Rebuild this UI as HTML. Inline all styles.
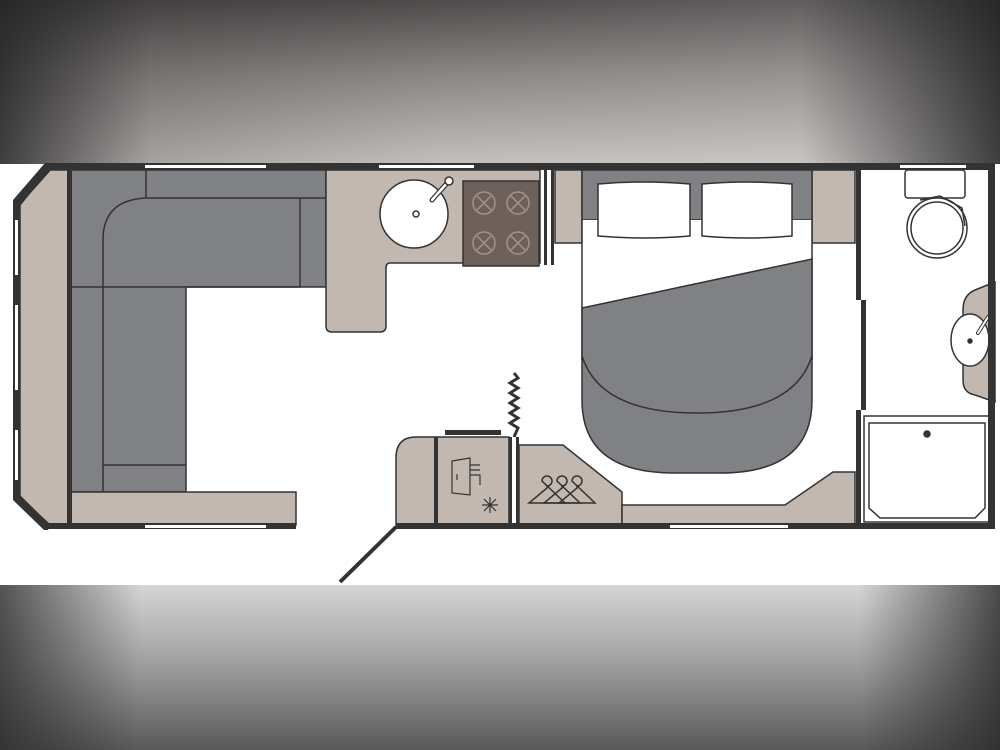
<!DOCTYPE html>
<html><head><meta charset="utf-8"><style>
html,body{margin:0;padding:0;width:1000px;height:750px;overflow:hidden;background:#fff}
.band{position:absolute;left:0;width:1000px}
#top{top:0;height:164px;background:linear-gradient(to right,rgba(30,30,30,.8),rgba(0,0,0,.15) 15%,rgba(0,0,0,0) 45%,rgba(255,255,255,.1) 80%,rgba(30,30,30,.8)),linear-gradient(to bottom,#4e4c4b,#8a8685 45%,#c3c0be)}
#bot{top:585px;height:165px;background:linear-gradient(to right,rgba(40,40,40,.75),rgba(0,0,0,0) 14%,rgba(0,0,0,0) 86%,rgba(40,40,40,.8)),linear-gradient(to bottom,#d6d5d4,#a3a2a2 45%,#5a5959)}
svg{position:absolute;left:0;top:0}
</style></head><body>
<div class="band" id="top"></div><div class="band" id="bot"></div>
<svg width="1000" height="750" viewBox="0 0 1000 750">
<g stroke="#333" stroke-width="1.5">
<polygon points="48,170 71,170 71,524 48,524 20,496 20,205" fill="#c2b8b0"/>
<path d="M71,170 H326 V287 H186 V492 H71 Z" fill="#808184"/>
<path d="M146,170 V198 M146,198 H326 M300,198 V287 M186,287 H300 M146,198 Q103,200 103,240 V492 M71,287 H186 M103,465 H186" fill="none"/>
<rect x="71" y="492" width="225" height="33" fill="#c2b8b0"/>
<path d="M326,170 H540 V263 H390 Q386,263 386,268 V326 Q386,332 380,332 H332 Q326,332 326,326 Z" fill="#c2b8b0"/>
<circle cx="414" cy="214" r="34" fill="#fff"/>
<circle cx="416" cy="214" r="3" fill="none"/>
<line x1="432" y1="200" x2="448" y2="182" stroke-width="5" stroke-linecap="round"/>
<line x1="432" y1="200" x2="448" y2="182" stroke="#fff" stroke-width="2.5" stroke-linecap="round"/>
<circle cx="449" cy="181" r="4" fill="#fff"/>
<rect x="463" y="181" width="76" height="85" fill="#6e615b"/>
<g fill="none" stroke="#a3948c" stroke-width="1.5">
<circle cx="484" cy="203" r="11"/><circle cx="518" cy="203" r="11"/><circle cx="484" cy="243" r="11"/><circle cx="518" cy="243" r="11"/>
<path d="M477,196 l14,14 M491,196 l-14,14 M511,196 l14,14 M525,196 l-14,14 M477,236 l14,14 M491,236 l-14,14 M511,236 l14,14 M525,236 l-14,14"/>
</g>
<rect x="555" y="170" width="27" height="73" fill="#c2b8b0"/>
<rect x="812" y="170" width="43" height="73" fill="#c2b8b0"/>
<rect x="582" y="170" width="230" height="50" fill="#808184"/>
<rect x="582" y="220" width="230" height="50" fill="#fff" stroke="none"/>
<line x1="582" y1="220" x2="582" y2="360"/><line x1="812" y1="220" x2="812" y2="360"/>
<path d="M598,184 Q644,180 690,184 L690,236 Q644,240 598,236 Z" fill="#fff"/>
<path d="M702,184 Q747,180 792,184 L792,236 Q747,240 702,236 Z" fill="#fff"/>
<path d="M582,308 L812,259 V400 Q812,473 720,473 H674 Q582,473 582,400 Z" fill="#808184"/>
<path d="M582,356 Q600,413 697,413 Q794,413 812,356" fill="none"/>
<path d="M519,445 H563 L622,492 V527 H519 Z" fill="#c2b8b0"/>
<g fill="none" stroke-width="1.5">
<path d="M542,481 a5,5 0 1 1 5,5 v2 l-18,15 h36 z"/>
<path d="M557,481 a5,5 0 1 1 5,5 v2 l-18,15 h36 z"/>
<path d="M572,481 a5,5 0 1 1 5,5 v2 l-18,15 h36 z"/>
</g>
<path d="M622,505 H785 L833,472 H855 V525 H622 Z" fill="#c2b8b0"/>
<path d="M396,458 Q396,437 416,437 H509 V527 H396 Z" fill="#c2b8b0"/>
<g fill="none" stroke-width="1.2">
<path d="M452,461 L470,458 V495 L452,493 Z M457,474 v6 M470,465 h10 M470,470 h10 M470,475 h10 v10"/>
<path d="M490,497 v16 M482,505 h16 M484,499 l12,12 M496,499 l-12,12"/>
</g>
<path d="M995,282 L975,290 Q963,295 963,310 V380 Q963,393 975,395 L995,402 Z" fill="#c2b8b0"/>
<ellipse cx="970" cy="340" rx="19" ry="26" fill="#fff"/>
<circle cx="970" cy="341" r="2" fill="#333"/>
<line x1="978" y1="333" x2="988" y2="317" stroke-width="4" stroke-linecap="round"/>
<line x1="978" y1="333" x2="988" y2="317" stroke="#fff" stroke-width="2" stroke-linecap="round"/>
<rect x="905" y="170" width="60" height="28" rx="3" fill="#fff"/>
<circle cx="937" cy="228" r="30" fill="#fff"/>
<circle cx="937" cy="228" r="26" fill="none"/>
<path d="M920,200 L940,196 L962,208 L965,226" fill="none"/>
<rect x="864" y="416" width="127" height="106" fill="#fff"/>
<path d="M869,423 H985 V508 L975,518 H880 L869,508 Z" fill="#fff"/>
<circle cx="927" cy="434" r="3" fill="#333"/>
</g>
<g fill="#333">
<rect x="48" y="163" width="947" height="7"/>
<rect x="13" y="205" width="7" height="291"/>
<polygon points="48,163 53,168 20,205 13,205 13,200 45,163"/>
<polygon points="13,496 20,496 50,524 48,530 44,530 13,500"/>
<rect x="44" y="523" width="252" height="6"/>
<rect x="67" y="170" width="5" height="355"/>
<rect x="396" y="523" width="599" height="6"/>
<rect x="988" y="163" width="7" height="366"/>
<rect x="856" y="170" width="5" height="130"/>
<rect x="856" y="410" width="5" height="117"/>
<rect x="861" y="300" width="5" height="110"/>
<rect x="544" y="170" width="3" height="95"/><rect x="551" y="170" width="3" height="95"/>
<rect x="509" y="437" width="3" height="90"/><rect x="516" y="437" width="3" height="90"/>
<rect x="434" y="437" width="4" height="90"/>
<rect x="445" y="430" width="56" height="5"/>
</g>
<polyline points="514,373 518,378 510,383 518,388 510,393 518,398 510,403 518,408 510,413 518,418 510,423 518,428 514,437" fill="none" stroke="#333" stroke-width="3"/>
<line x1="340" y1="582" x2="396" y2="527" stroke="#333" stroke-width="4"/>
<g fill="#fff">
<rect x="145" y="165" width="121" height="3"/>
<rect x="379" y="165" width="95" height="3"/>
<rect x="900" y="165" width="66" height="3"/>
<rect x="145" y="525" width="121" height="3"/>
<rect x="670" y="525" width="118" height="3"/>
<rect x="15" y="220" width="3" height="55"/>
<rect x="15" y="305" width="3" height="85"/>
<rect x="15" y="430" width="3" height="50"/>
</g>
</svg>
</body></html>
